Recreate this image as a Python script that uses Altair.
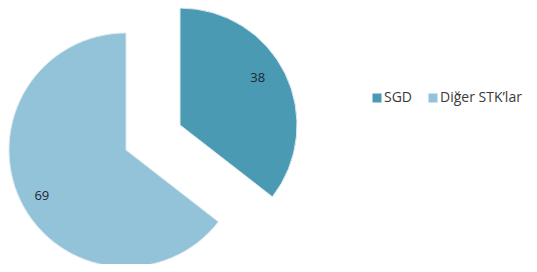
import altair as alt
import pandas as pd

categories = ["SGD", "Diğer STK’lar"]
values = [38, 69]
colors = ["#4A9AB3", "#92C3D8"]

df = pd.DataFrame({"cat": categories, "value": values, "idx": list(range(len(categories)))})

CX, CY = 145, 129.5
R = 117
explode = [(27, -12.5), (-27, 12.5)]
label_radius = [91, 96]
label_theta_offset = [-0.09, -0.047]

color = alt.Color(
    "cat:N",
    scale=alt.Scale(domain=categories, range=colors),
    sort=categories,
    legend=alt.Legend(
        title=None,
        orient="none",
        legendX=362,
        legendY=83,
        direction="horizontal",
        symbolType="square",
        symbolSize=81,
        symbolStrokeWidth=0,
        labelFont="Open Sans",
        labelFontSize=14,
        labelColor="#3a3a3a",
        labelOffset=0,
        columnPadding=13,
    ),
)

base = alt.Chart(df).encode(
    theta=alt.Theta("value:Q", stack=True),
    order=alt.Order("idx:Q"),
    x=alt.value(CX),
    y=alt.value(CY),
)

layers = []
for i, c in enumerate(categories):
    dx, dy = explode[i]
    cond = f"datum.idx === {i}"
    layers.append(
        base.mark_arc(outerRadius=R, xOffset=dx, yOffset=dy, stroke="#dbe9f0", strokeWidth=1).encode(
            color=color,
            opacity=alt.condition(cond, alt.value(1), alt.value(0)),
        )
    )
    layers.append(
        base.mark_text(
            radius=label_radius[i], thetaOffset=label_theta_offset[i],
            xOffset=dx, yOffset=dy, font="Open Sans", fontSize=13, color="#1c2733",
        ).encode(
            text="value:Q",
            opacity=alt.condition(cond, alt.value(1), alt.value(0)),
        )
    )

chart = alt.layer(*layers).properties(
    width=521, height=256, autosize=alt.AutoSizeParams(type="none"), padding=0
).configure(background="white").configure_view(stroke=None)

chart.save("out.html", embed_options={"renderer": "svg", "actions": False})
